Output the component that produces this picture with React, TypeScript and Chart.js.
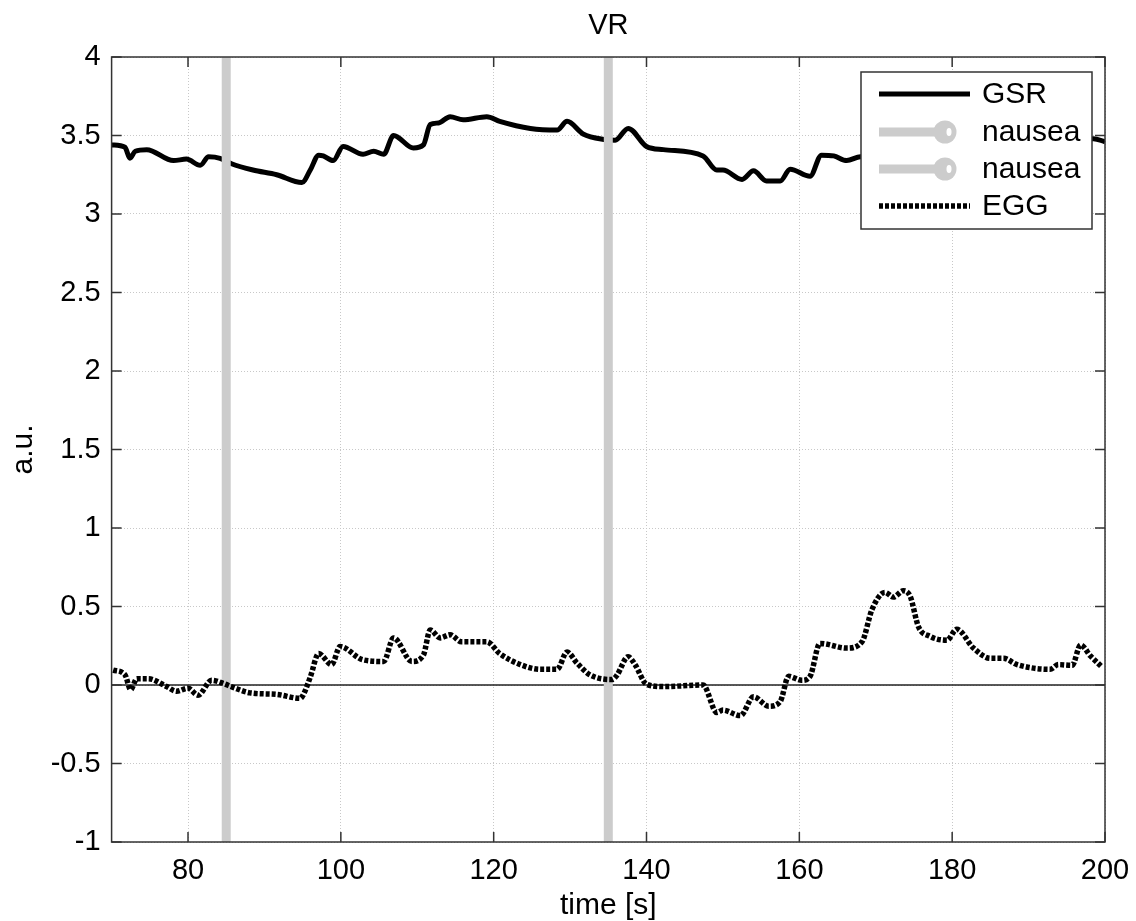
import React, { useEffect, useRef } from "react";
import { Chart, registerables } from "chart.js";

Chart.register(...registerables);

// ---- data ----
const gsrTime = [70, 71.75, 72.4, 73.1, 74.6, 78.1, 79.8, 81.6, 82.7, 84.2, 85.7, 88.5, 91.6, 94.9, 96, 97.1, 97.7, 99, 100.3, 102.9, 104.3, 105.6, 106.9, 109.5, 110.8, 111.7, 112.8, 114.3, 116, 119.1, 120.8, 124.8, 128.3, 129.6, 131.7, 134.4, 135.9, 137.6, 140, 142.2, 147.4, 149.2, 150, 152.5, 154, 155.7, 157.5, 158.8, 161.4, 162.9, 164.5, 166.2, 168, 172, 176, 180, 184, 188, 192, 196, 198.5, 200];
const gsrValue = [3.44, 3.425, 3.355, 3.4, 3.41, 3.34, 3.35, 3.31, 3.365, 3.355, 3.32, 3.28, 3.25, 3.2, 3.28, 3.375, 3.37, 3.34, 3.43, 3.38, 3.4, 3.38, 3.5, 3.42, 3.44, 3.57, 3.58, 3.62, 3.6, 3.62, 3.59, 3.545, 3.535, 3.59, 3.51, 3.475, 3.47, 3.545, 3.43, 3.41, 3.37, 3.28, 3.28, 3.22, 3.275, 3.21, 3.21, 3.285, 3.24, 3.375, 3.37, 3.34, 3.365, 3.36, 3.38, 3.4, 3.42, 3.44, 3.46, 3.47, 3.48, 3.46];

const eggTime = [70.2, 71.75, 72.5, 73.3, 74.8, 77.2, 78.5, 80, 81.3, 83.1, 84.6, 85.9, 88.1, 91.6, 94.7, 95, 96, 97.1, 98.8, 99.9, 102.9, 105.6, 106.9, 109.3, 110.8, 111.7, 113, 114.3, 115.8, 119.1, 120.8, 123.5, 126.1, 128.3, 129.6, 130.9, 132.6, 135.5, 136.1, 137.6, 138.5, 140, 142.2, 147.4, 149.2, 150, 152.3, 154, 156, 157.5, 158.6, 160.3, 161.4, 162.7, 166.2, 168.2, 169.5, 171.2, 172.3, 173.6, 174.5, 175.6, 177.1, 179.3, 180.6, 182.8, 185, 186.7, 188.5, 192.8, 193.9, 195.7, 196.8, 198.1, 199.6];
const eggValue = [0.095, 0.065, -0.03, 0.04, 0.04, -0.01, -0.04, -0.02, -0.065, 0.03, 0.01, -0.015, -0.05, -0.06, -0.085, -0.07, 0.05, 0.2, 0.13, 0.245, 0.16, 0.15, 0.3, 0.15, 0.19, 0.35, 0.3, 0.32, 0.275, 0.275, 0.2, 0.13, 0.1, 0.1, 0.21, 0.14, 0.065, 0.035, 0.06, 0.18, 0.13, 0.005, -0.01, 0.0, -0.175, -0.16, -0.195, -0.075, -0.135, -0.105, 0.055, 0.03, 0.055, 0.265, 0.235, 0.275, 0.48, 0.59, 0.56, 0.6, 0.565, 0.37, 0.31, 0.285, 0.355, 0.235, 0.17, 0.17, 0.13, 0.1, 0.13, 0.125, 0.255, 0.185, 0.115];

const nauseaTimes = [85, 135];
const xTicks = [80, 100, 120, 140, 160, 180, 200];
const yTicks = [-1, -0.5, 0, 0.5, 1, 1.5, 2, 2.5, 3, 3.5, 4];
const legendLabels = ["GSR", "nausea", "nausea", "EGG"];
const titleText = "VR";
const xLabel = "time [s]";
const yLabel = "a.u.";

const FONT = '"Liberation Sans", Arial, sans-serif';
const GRAY = "#cccccc";

const overlay = {
  id: "overlay",
  afterDatasetsDraw(chart: any) {
    const { ctx, chartArea } = chart;
    const { left, right, top, bottom } = chartArea;
    const xs = chart.scales.x;
    const ys = chart.scales.y;
    ctx.save();
    // box
    ctx.strokeStyle = "#333";
    ctx.lineWidth = 1.5;
    ctx.setLineDash([]);
    ctx.strokeRect(left, top, right - left, bottom - top);
    // inside ticks
    ctx.beginPath();
    xTicks.forEach((v) => {
      const px = xs.getPixelForValue(v);
      ctx.moveTo(px, bottom);
      ctx.lineTo(px, bottom - 10);
      ctx.moveTo(px, top);
      ctx.lineTo(px, top + 10);
    });
    yTicks.forEach((v) => {
      const py = ys.getPixelForValue(v);
      ctx.moveTo(left, py);
      ctx.lineTo(left + 10, py);
      ctx.moveTo(right, py);
      ctx.lineTo(right - 10, py);
    });
    ctx.stroke();

    // texts
    ctx.fillStyle = "#000";
    ctx.textAlign = "center";
    ctx.textBaseline = "alphabetic";
    ctx.font = `29px ${FONT}`;
    ctx.fillText(titleText, (left + right) / 2, 34);
    ctx.font = `30px ${FONT}`;
    ctx.fillText(xLabel, (left + right) / 2, 914);
    ctx.save();
    ctx.translate(32, (top + bottom) / 2);
    ctx.rotate(-Math.PI / 2);
    ctx.fillText(yLabel, 0, 0);
    ctx.restore();

    // legend
    const lx = 861, ly = 72, lw = 231, lh = 157;
    ctx.fillStyle = "#fff";
    ctx.fillRect(lx, ly, lw, lh);
    ctx.strokeStyle = "#333";
    ctx.lineWidth = 1.5;
    ctx.strokeRect(lx, ly, lw, lh);
    const rows = [94, 132, 169, 206];
    const x0 = 879, x1 = 970;
    // GSR
    ctx.beginPath();
    ctx.strokeStyle = "#000";
    ctx.lineWidth = 5;
    ctx.moveTo(x0, rows[0]);
    ctx.lineTo(x1, rows[0]);
    ctx.stroke();
    // nausea x2
    [rows[1], rows[2]].forEach((ry) => {
      ctx.beginPath();
      ctx.strokeStyle = GRAY;
      ctx.lineWidth = 9;
      ctx.moveTo(x0, ry);
      ctx.lineTo(940, ry);
      ctx.stroke();
      ctx.beginPath();
      ctx.fillStyle = GRAY;
      ctx.arc(945, ry, 11.5, 0, Math.PI * 2);
      ctx.fill();
      ctx.beginPath();
      ctx.fillStyle = "#fff";
      ctx.ellipse(949, ry, 2.5, 4, 0, 0, Math.PI * 2);
      ctx.fill();
    });
    // EGG
    ctx.beginPath();
    ctx.strokeStyle = "#000";
    ctx.lineWidth = 5.5;
    ctx.setLineDash([4, 2]);
    ctx.moveTo(x0, rows[3]);
    ctx.lineTo(x1, rows[3]);
    ctx.stroke();
    ctx.setLineDash([]);
    ctx.fillStyle = "#000";
    ctx.font = `30px ${FONT}`;
    ctx.textAlign = "left";
    ctx.textBaseline = "middle";
    legendLabels.forEach((t, i) => ctx.fillText(t, 982, rows[i] + 1));
    ctx.restore();
  },
};

export default function App() {
  const ref = useRef<HTMLCanvasElement>(null);
  useEffect(() => {
    if (!ref.current) return;
    const gsr = gsrTime.map((t, i) => ({ x: t, y: gsrValue[i] }));
    const egg = eggTime.map((t, i) => ({ x: t, y: eggValue[i] }));
    const nausea = nauseaTimes.map((t) => ({
      label: "nausea",
      data: [
        { x: t, y: yTicks[0] },
        { x: t, y: yTicks[yTicks.length - 1] },
      ],
      borderColor: GRAY,
      borderWidth: 9,
      showLine: true,
      pointRadius: 0,
      order: 1,
    }));
    const chart = new Chart(ref.current, {
      type: "scatter",
      data: {
        datasets: [
          {
            label: "EGG",
            data: egg,
            borderColor: "#000",
            borderWidth: 5.5,
            borderDash: [4, 2],
            showLine: true,
            pointRadius: 0,
            cubicInterpolationMode: "monotone",
            order: 0,
          } as any,
          ...nausea,
          {
            label: "zero",
            data: [
              { x: 70, y: 0 },
              { x: 200, y: 0 },
            ],
            borderColor: "#222",
            borderWidth: 1.5,
            showLine: true,
            pointRadius: 0,
            order: 2,
          },
          {
            label: "GSR",
            data: gsr,
            borderColor: "#000",
            borderWidth: 5,
            showLine: true,
            pointRadius: 0,
            cubicInterpolationMode: "monotone",
            order: 3,
          } as any,
        ],
      },
      options: {
        animation: false,
        responsive: false,
        layout: { padding: { left: 0, top: 57, right: 31, bottom: 0 } },
        plugins: { legend: { display: false }, tooltip: { enabled: false }, title: { display: false } },
        scales: {
          x: {
            type: "linear",
            min: 70,
            max: 200,
            afterBuildTicks: (s: any) => {
              s.ticks = xTicks.map((v) => ({ value: v }));
            },
            afterFit: (s: any) => {
              s.height = 79;
              s.paddingLeft = 0;
              s.paddingRight = 0;
            },
            grid: { color: "#c8c8c8", lineWidth: 1, drawTicks: false } as any,
            border: { display: false, dash: [1, 2] },
            ticks: {
              padding: 12,
              color: "#000",
              font: { family: FONT, size: 29 },
              maxRotation: 0,
              callback: (v: any) => String(v),
            },
          },
          y: {
            type: "linear",
            min: -1,
            max: 4,
            afterBuildTicks: (s: any) => {
              s.ticks = yTicks.map((v) => ({ value: v }));
            },
            afterFit: (s: any) => {
              s.width = 111.6;
              s.paddingTop = 0;
              s.paddingBottom = 0;
            },
            grid: { color: "#c8c8c8", lineWidth: 1, drawTicks: false } as any,
            border: { display: false, dash: [1, 2] },
            ticks: {
              padding: 11,
              color: "#000",
              font: { family: FONT, size: 29 },
              callback: (v: any) => String(v),
            },
          },
        },
      },
      plugins: [overlay],
    });
    return () => chart.destroy();
  }, []);
  return (
    <div style={{ position: "fixed", left: 0, top: 0, width: 1136, height: 921, background: "#fff" }}>
      <canvas ref={ref} width={1136} height={921} style={{ width: 1136, height: 921, display: "block" }} />
    </div>
  );
}
